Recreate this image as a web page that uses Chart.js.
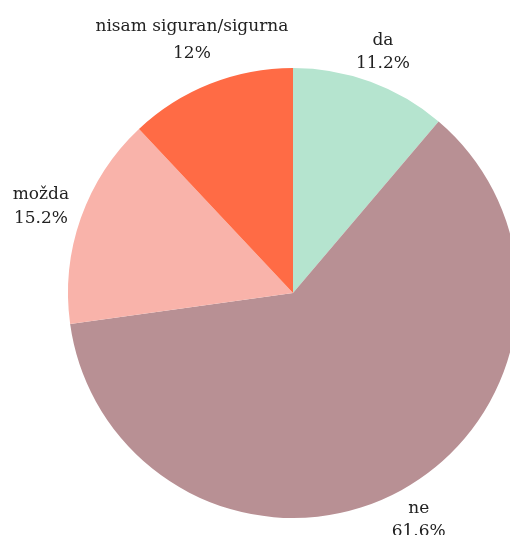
<!DOCTYPE html>
<html>
<head>
<meta charset="utf-8">
<script src="https://cdn.jsdelivr.net/npm/chart.js@4"></script>
<style>
  html, body { margin: 0; padding: 0; background: #fff; overflow: hidden; }
  #wrap { width: 510px; height: 535px; overflow: hidden; position: relative; }
  canvas { position: absolute; left: 0; top: 0; }
</style>
</head>
<body>
<div id="wrap"><canvas id="pie" width="586" height="586"></canvas></div>
<script>
const categories = ['da', 'ne', 'možda', 'nisam siguran/sigurna'];
const values = [11.2, 61.6, 15.2, 12];
const valueLabels = ['11.2%', '61.6%', '15.2%', '12%'];
const colors = ['#b5e4cf', '#b89094', '#f9b3aa', '#ff6b45'];

// etikete izvan kruga, na sredini svakog isječka (s malim pomacima)
const nudges = [[0, 4, 4], [0, -2, -2], [-6, -1, 0], [-5, -13, -9]];
const outsideLabels = {
  id: 'outsideLabels',
  afterDatasetsDraw(chart) {
    const ctx = chart.ctx;
    const meta = chart.getDatasetMeta(0);
    ctx.save();
    ctx.fillStyle = '#222';
    ctx.textAlign = 'center';
    ctx.textBaseline = 'middle';
    ctx.font = '17px "DejaVu Serif", serif';
    meta.data.forEach((arc, i) => {
      const mid = (arc.startAngle + arc.endAngle) / 2;
      const r = arc.outerRadius + 36;
      const n = nudges[i];
      const x = arc.x + Math.cos(mid) * r + n[0];
      const y = arc.y + Math.sin(mid) * r;
      ctx.fillText(categories[i], x, y - 11 + n[1]);
      ctx.fillText(valueLabels[i], x, y + 12 + n[2]);
    });
    ctx.restore();
  }
};

new Chart(document.getElementById('pie').getContext('2d'), {
  type: 'pie',
  data: {
    labels: categories,
    datasets: [{
      data: values,
      backgroundColor: colors,
      borderWidth: 0
    }]
  },
  options: {
    responsive: false,
    animation: false,
    layout: { padding: 68 },
    plugins: {
      legend: { display: false },
      tooltip: { enabled: false }
    }
  },
  plugins: [outsideLabels]
});
</script>
</body>
</html>
